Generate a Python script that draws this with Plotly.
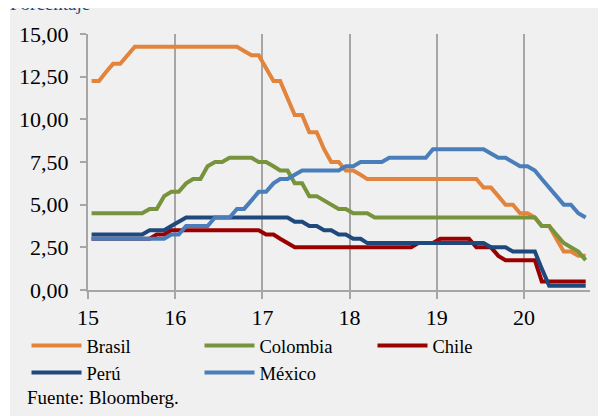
import pandas as pd
import plotly.graph_objects as go

# tasas de politica monetaria, fin de mes, ene-2015 a sep-2020
meses = pd.date_range("2015-01-01", "2020-09-01", freq="MS") + pd.Timedelta(days=15)

brasil = [12.25, 12.25, 12.75, 13.25, 13.25, 13.75, 14.25, 14.25, 14.25, 14.25, 14.25, 14.25,
          14.25, 14.25, 14.25, 14.25, 14.25, 14.25, 14.25, 14.25, 14.25, 14.00, 13.75, 13.75,
          13.00, 12.25, 12.25, 11.25, 10.25, 10.25, 9.25, 9.25, 8.25, 7.50, 7.50, 7.00,
          7.00, 6.75, 6.50, 6.50, 6.50, 6.50, 6.50, 6.50, 6.50, 6.50, 6.50, 6.50,
          6.50, 6.50, 6.50, 6.50, 6.50, 6.50, 6.00, 6.00, 5.50, 5.00, 5.00, 4.50,
          4.50, 4.25, 3.75, 3.75, 3.00, 2.25, 2.25, 2.00, 2.00]
colombia = [4.50, 4.50, 4.50, 4.50, 4.50, 4.50, 4.50, 4.50, 4.75, 4.75, 5.50, 5.75,
            5.75, 6.25, 6.50, 6.50, 7.25, 7.50, 7.50, 7.75, 7.75, 7.75, 7.75, 7.50,
            7.50, 7.25, 7.00, 7.00, 6.25, 6.25, 5.50, 5.50, 5.25, 5.00, 4.75, 4.75,
            4.50, 4.50, 4.50, 4.25, 4.25, 4.25, 4.25, 4.25, 4.25, 4.25, 4.25, 4.25,
            4.25, 4.25, 4.25, 4.25, 4.25, 4.25, 4.25, 4.25, 4.25, 4.25, 4.25, 4.25,
            4.25, 4.25, 3.75, 3.75, 3.25, 2.75, 2.50, 2.25, 1.75]
chile = [3.00, 3.00, 3.00, 3.00, 3.00, 3.00, 3.00, 3.00, 3.00, 3.25, 3.25, 3.50,
         3.50, 3.50, 3.50, 3.50, 3.50, 3.50, 3.50, 3.50, 3.50, 3.50, 3.50, 3.50,
         3.25, 3.25, 3.00, 2.75, 2.50, 2.50, 2.50, 2.50, 2.50, 2.50, 2.50, 2.50,
         2.50, 2.50, 2.50, 2.50, 2.50, 2.50, 2.50, 2.50, 2.50, 2.75, 2.75, 2.75,
         3.00, 3.00, 3.00, 3.00, 3.00, 2.50, 2.50, 2.50, 2.00, 1.75, 1.75, 1.75,
         1.75, 1.75, 0.50, 0.50, 0.50, 0.50, 0.50, 0.50, 0.50]
peru = [3.25, 3.25, 3.25, 3.25, 3.25, 3.25, 3.25, 3.25, 3.50, 3.50, 3.50, 3.75,
        4.00, 4.25, 4.25, 4.25, 4.25, 4.25, 4.25, 4.25, 4.25, 4.25, 4.25, 4.25,
        4.25, 4.25, 4.25, 4.25, 4.00, 4.00, 3.75, 3.75, 3.50, 3.50, 3.25, 3.25,
        3.00, 3.00, 2.75, 2.75, 2.75, 2.75, 2.75, 2.75, 2.75, 2.75, 2.75, 2.75,
        2.75, 2.75, 2.75, 2.75, 2.75, 2.75, 2.75, 2.50, 2.50, 2.50, 2.25, 2.25,
        2.25, 2.25, 1.25, 0.25, 0.25, 0.25, 0.25, 0.25, 0.25]
mexico = [3.00, 3.00, 3.00, 3.00, 3.00, 3.00, 3.00, 3.00, 3.00, 3.00, 3.00, 3.25,
          3.25, 3.75, 3.75, 3.75, 3.75, 4.25, 4.25, 4.25, 4.75, 4.75, 5.25, 5.75,
          5.75, 6.25, 6.50, 6.50, 6.75, 7.00, 7.00, 7.00, 7.00, 7.00, 7.00, 7.25,
          7.25, 7.50, 7.50, 7.50, 7.50, 7.75, 7.75, 7.75, 7.75, 7.75, 7.75, 8.25,
          8.25, 8.25, 8.25, 8.25, 8.25, 8.25, 8.25, 8.00, 7.75, 7.75, 7.50, 7.25,
          7.25, 7.00, 6.50, 6.00, 5.50, 5.00, 5.00, 4.50, 4.25]

series = [("Brasil", brasil, "#E3843C"),
          ("Colombia", colombia, "#77933C"),
          ("Chile", chile, "#990000"),
          ("Perú", peru, "#1F497D"),
          ("México", mexico, "#4A7EBB")]

anios = ["2015-01-01", "2016-01-01", "2017-01-01", "2018-01-01", "2019-01-01", "2020-01-01"]
anios_txt = ["15", "16", "17", "18", "19", "20"]
y_ticks = [0, 2.5, 5, 7.5, 10, 12.5, 15]

FONT = "Liberation Serif"
GRIS = "#a6a6a6"

fig = go.Figure()
for nombre, vals, color in series:
    fig.add_trace(go.Scatter(x=meses, y=vals, name=nombre, mode="lines",
                             line=dict(color=color, width=4)))

# la pagina html deja 8px de margen en el body: se descuentan aqui
fig.update_layout(
    width=606, height=416,
    margin=dict(l=80, r=24, t=26, b=134, autoexpand=False),
    paper_bgcolor="white",
    plot_bgcolor="rgba(0,0,0,0)",
    separators=",.",
    font=dict(family=FONT, size=19, color="black"),
    showlegend=True,
    legend=dict(orientation="h", x=-0.1225, y=-0.1445, xanchor="left", yanchor="top",
                entrywidth=108, entrywidthmode="pixels", itemwidth=50,
                bgcolor="rgba(0,0,0,0)", font=dict(family=FONT, size=18.5)),
)
fig.update_xaxes(range=["2015-01-01", "2020-10-04"], tickvals=anios, ticktext=anios_txt,
                 showgrid=True, gridcolor=GRIS, gridwidth=2,
                 showline=True, linecolor=GRIS, linewidth=2,
                 ticks="outside", ticklen=7, tickwidth=2, tickcolor=GRIS,
                 tickfont=dict(size=22), zeroline=False)
fig.update_yaxes(range=[0, 15], tickvals=y_ticks, tickformat=".2f",
                 showgrid=False, zeroline=False,
                 showline=True, linecolor=GRIS, linewidth=2,
                 ticks="outside", ticklen=6, tickwidth=2, tickcolor=GRIS,
                 tickfont=dict(size=22), ticklabelstandoff=7)

# recuadro gris del grafico
fig.add_shape(type="rect", xref="paper", yref="paper", x0=-0.1554, x1=1.1, y0=-0.6, y1=1.1055,
              fillcolor="#f0f0f0", line_width=0, layer="below")

fig.add_annotation(text="Porcentaje", xref="paper", yref="paper", x=-0.16, y=1.12,
                   xanchor="left", yanchor="middle", showarrow=False,
                   font=dict(family=FONT, size=19, color="#1F497D"))
fig.add_annotation(text="Fuente: Bloomberg.", xref="paper", yref="paper", x=-0.1255, y=-0.418,
                   xanchor="left", yanchor="middle", showarrow=False,
                   font=dict(family=FONT, size=19, color="black"))

fig.write_html("out.html")
